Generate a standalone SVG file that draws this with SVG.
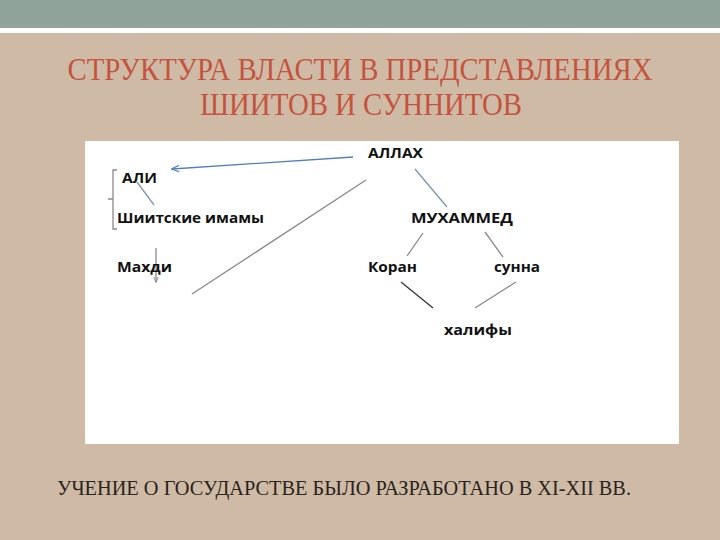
<svg xmlns="http://www.w3.org/2000/svg" width="720" height="540" viewBox="0 0 720 540">
<style>
.title{font-family:"Liberation Serif",serif;font-size:32px;fill:#c4533f}
.foot{font-family:"Liberation Serif",serif;font-size:22px;fill:#2a2420}
.lbl{font-family:"Open Sans","Liberation Sans",sans-serif;font-weight:bold;font-size:14.5px;fill:#111}
.ln{stroke:#8a8a8a;stroke-width:1.3;fill:none}
.bl{stroke:#7f95b5;stroke-width:1.3;fill:none}
.dk{stroke:#333;stroke-width:1.3;fill:none}
</style>
<defs>
<marker id="ah" viewBox="0 0 10 10" refX="9" refY="5" markerWidth="8" markerHeight="8" orient="auto" markerUnits="userSpaceOnUse">
<path d="M0,1 L10,5 L0,9" fill="none" stroke="#4f7fbf" stroke-width="1.5"/>
</marker>
<marker id="ah2" viewBox="0 0 10 10" refX="9" refY="5" markerWidth="6" markerHeight="6" orient="auto" markerUnits="userSpaceOnUse">
<path d="M0,1 L10,5 L0,9" fill="none" stroke="#888" stroke-width="1.5"/>
</marker>
</defs>
<rect x="0" y="0" width="720" height="540" fill="#cfbba5"/>
<rect x="0" y="0" width="720" height="28" fill="#8fa39a"/>
<rect x="0" y="28" width="720" height="5" fill="#ffffff"/>
<text class="title" x="360" y="80" text-anchor="middle" textLength="585" lengthAdjust="spacingAndGlyphs">СТРУКТУРА ВЛАСТИ В ПРЕДСТАВЛЕНИЯХ</text>
<text class="title" x="361" y="115" text-anchor="middle" textLength="322" lengthAdjust="spacingAndGlyphs">ШИИТОВ И СУННИТОВ</text>
<rect x="85" y="141" width="594" height="303" fill="#ffffff"/>
<g id="connectors">
<line x1="353" y1="157" x2="172" y2="169" stroke="#4f7fbf" stroke-width="1.3" marker-end="url(#ah)"/>
<path class="ln" d="M117,170 L113,170 L113,229 L117,229 M113,199 L108,199"/>
<line class="bl" x1="137" y1="182" x2="154" y2="205"/>
<line class="ln" x1="156" y1="248" x2="156" y2="282" marker-end="url(#ah2)"/>
<line class="ln" x1="366" y1="180" x2="192" y2="294"/>
<line class="bl" x1="415" y1="169" x2="447" y2="207"/>
<line class="ln" x1="423" y1="233" x2="407" y2="256"/>
<line class="ln" x1="485" y1="232" x2="503" y2="257"/>
<line class="dk" x1="401" y1="282" x2="433" y2="308"/>
<line class="ln" x1="516" y1="282" x2="475" y2="308"/>
</g>
<g id="allah"><text class="lbl" x="368" y="158" textLength="55" lengthAdjust="spacingAndGlyphs">АЛЛАХ</text></g>
<g id="ali"><text class="lbl" x="122" y="183" textLength="35" lengthAdjust="spacingAndGlyphs">АЛИ</text></g>
<g id="imams"><text class="lbl" x="117" y="223" textLength="147" lengthAdjust="spacingAndGlyphs">Шиитские имамы</text></g>
<g id="mahdi"><text class="lbl" x="117" y="272" textLength="55" lengthAdjust="spacingAndGlyphs">Махди</text></g>
<g id="muhammad"><text class="lbl" x="411" y="223" textLength="102" lengthAdjust="spacingAndGlyphs">МУХАММЕД</text></g>
<g id="quran"><text class="lbl" x="368" y="272" textLength="49" lengthAdjust="spacingAndGlyphs">Коран</text></g>
<g id="sunna"><text class="lbl" x="494" y="272" textLength="46" lengthAdjust="spacingAndGlyphs">сунна</text></g>
<g id="caliphs"><text class="lbl" x="444" y="335" textLength="68" lengthAdjust="spacingAndGlyphs">халифы</text></g>
<text class="foot" x="57" y="495" textLength="574" lengthAdjust="spacingAndGlyphs">УЧЕНИЕ О ГОСУДАРСТВЕ БЫЛО РАЗРАБОТАНО В XI-XII ВВ.</text>
</svg>
